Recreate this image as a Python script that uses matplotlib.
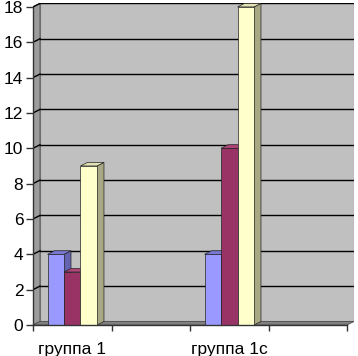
import numpy as np
import matplotlib
matplotlib.use('Agg')
import matplotlib.pyplot as plt
from matplotlib.patches import Polygon

plt.rcParams['font.family'] = ['Liberation Sans', 'DejaVu Sans']

categories = ['группа 1', '', 'группа 1с', '']
series_a = [4, None, 4, None]
series_b = [3, None, 10, None]
series_c = [9, None, 18, None]
y_ticks = [0, 2, 4, 6, 8, 10, 12, 14, 16, 18]

series = [series_a, series_b, series_c]
# front, side, top colours (old excel palette)
colours = [('#9999FF', '#6363B0', '#7A7AD6'),
           ('#993366', '#5E1F3F', '#B3447A'),
           ('#FFFFCC', '#A8A884', '#E2E2B4')]

ymax = 18
n = len(categories)
dx, dy = 0.089, 0.2   # depth offset in data units
bar_w = 0.21

fig = plt.figure(figsize=(3.58, 3.56), dpi=100)
ax = fig.add_axes([33 / 358, 31 / 356, 321 / 358, 321.6 / 356])
ax.set_xlim(0, n + dx)
ax.set_ylim(0, ymax + dy)

# walls and floor
ax.add_patch(Polygon([(dx, dy), (n + dx, dy), (n + dx, ymax + dy), (dx, ymax + dy)],
                     facecolor='#C0C0C0', edgecolor='#808080', lw=0.8, zorder=1))
ax.add_patch(Polygon([(0, 0), (dx, dy), (dx, ymax + dy), (0, ymax)],
                     facecolor='#9C9C9C', edgecolor='#606060', lw=0.8, zorder=1))
ax.add_patch(Polygon([(0, 0), (n, 0), (n + dx, dy), (dx, dy)],
                     facecolor='#808080', edgecolor='#505050', lw=0.6, zorder=1))

for t in y_ticks[1:]:
    ax.plot([dx, n + dx], [t + dy, t + dy], color='black', lw=1.0, zorder=2)
    ax.plot([0, dx], [t, t + dy], color='black', lw=1.0, zorder=2)

x = np.arange(n)
start = 0.5 - 1.5 * bar_w
z = 3
for i, vals in enumerate(series):
    front, side, top = colours[i]
    for j, v in enumerate(vals):
        if v is None:
            continue
        x0 = x[j] + start + i * bar_w
        x1 = x0 + bar_w
        ax.add_patch(Polygon([(x1, 0), (x1 + dx, dy), (x1 + dx, v + dy), (x1, v)],
                             facecolor=side, edgecolor='#222222', lw=0.5,
                             zorder=z + j * 10 + i, clip_on=False))
        ax.add_patch(Polygon([(x0, v), (x1, v), (x1 + dx, v + dy), (x0 + dx, v + dy)],
                             facecolor=top, edgecolor='#222222', lw=0.5,
                             zorder=z + j * 10 + i, clip_on=False))
        ax.bar(x0, v, width=bar_w, align='edge', color=front,
               edgecolor='#222222', linewidth=0.5, zorder=z + j * 10 + i + 0.5)

for s in ['top', 'right']:
    ax.spines[s].set_visible(False)
ax.spines['left'].set_bounds(0, ymax)
ax.spines['bottom'].set_bounds(0, n)
for s in ['left', 'bottom']:
    ax.spines[s].set_color('#333333')
    ax.spines[s].set_linewidth(1.0)
    ax.spines[s].set_zorder(50)

ax.set_yticks(y_ticks)
ax.set_xticks(np.arange(n + 1))
ax.set_xticklabels([])
ax.set_xticks(x + 0.5, minor=True)
ax.set_xticklabels(categories, minor=True)
ax.tick_params(axis='y', length=5, width=1, color='#333333', labelsize=12.5, pad=2)
ax.tick_params(axis='x', which='major', length=4, width=1, color='#333333')
ax.tick_params(axis='x', which='minor', length=0, labelsize=12.5, pad=12)

fig.savefig('out.png', dpi=100)
